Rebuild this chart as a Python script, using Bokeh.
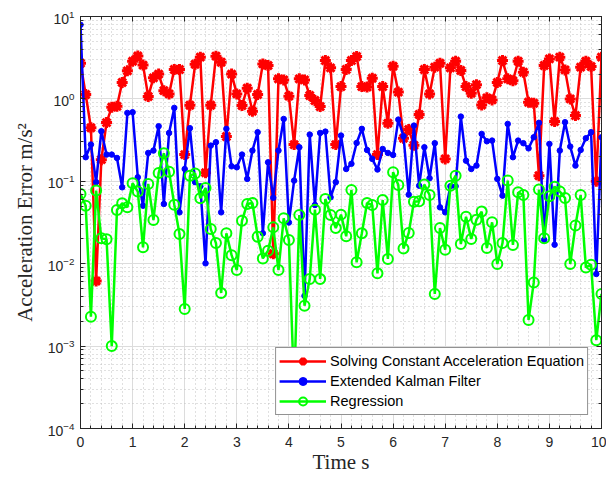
from bokeh.plotting import figure
from bokeh.models import LogAxis, LinearAxis, Legend, LegendItem, CustomJSTickFormatter
from bokeh.embed import file_html
from bokeh.resources import INLINE

time_s = [round(0.1 * i, 1) for i in range(101)]

solving_cae = [
    2.71, 1.13, 0.447, 0.00617, 0.183, 0.516, 0.794, 0.813, 1.58, 2.19,
    2.86, 3.31, 2.57, 1.07, 1.80, 2.00, 1.26, 1.15, 2.27, 2.27,
    0.211, 0.838, 2.63, 3.21, 0.127, 0.838, 3.30, 2.79, 0.349, 2.00,
    1.15, 0.832, 1.35, 0.708, 1.13, 2.66, 2.54, 0.0132, 1.75, 1.70,
    1.08, 0.279, 1.75, 1.70, 1.10, 0.955, 0.807, 2.92, 2.38, 0.279,
    1.41, 2.27, 2.92, 3.27, 1.41, 1.39, 1.78, 0.211, 1.41, 0.506,
    2.49, 1.21, 0.333, 0.425, 0.274, 0.646, 2.27, 1.15, 2.43, 2.71,
    0.187, 2.38, 2.86, 2.21, 1.41, 1.17, 1.49, 0.845, 1.03, 0.973,
    1.58, 2.92, 1.75, 1.66, 2.86, 2.11, 0.912, 0.885, 0.117, 2.54,
    3.06, 0.531, 3.21, 2.25, 1.00, 0.628, 2.43, 2.86, 2.47, 0.100,
    3.21,
]

ekf = [
    7.93, 0.196, 0.279, 0.0977, 0.405, 0.211, 0.211, 0.192, 0.0845, 0.676,
    0.689, 0.112, 0.0506, 0.221, 0.236, 0.466, 0.0531, 0.386, 0.778, 0.0420,
    0.141, 0.441, 0.0977, 0.0871, 0.0101, 0.271, 0.298, 0.0420, 0.433, 0.152,
    0.148, 0.211, 0.107, 0.236, 0.394, 0.0234, 0.170, 0.0631, 0.236, 0.571,
    0.0316, 0.102, 0.259, 0.00407, 0.369, 0.0516, 0.386, 0.401, 0.0640, 0.0977,
    0.359, 0.141, 0.163, 0.292, 0.433, 0.240, 0.187, 0.139, 0.247, 0.221,
    0.209, 0.561, 0.352, 0.0689, 0.474, 0.0885, 0.259, 0.109, 0.290, 0.0483,
    0.0420, 0.0871, 0.0871, 0.610, 0.178, 0.141, 0.155, 0.376, 0.306, 0.312,
    0.107, 0.0670, 0.497, 0.196, 0.312, 0.290, 0.251, 0.342, 0.512, 0.0195,
    0.284, 0.0170, 0.236, 0.521, 0.264, 0.155, 0.240, 0.333, 0.394, 0.0075,
    0.342,
]

regression = [
    0.0702, 0.0506, 0.00227, 0.0771, 0.0203, 0.0198, 0.00100, 0.0449, 0.0541, 0.0483,
    0.0946, 0.0750, 0.0158, 0.0929, 0.0339, 0.126, 0.219, 0.131, 0.0521, 0.0229,
    0.00282, 0.117, 0.124, 0.0622, 0.0830, 0.0263, 0.0178, 0.00441, 0.0234, 0.0127,
    0.00837, 0.0333, 0.0531, 0.0546, 0.0213, 0.0116, 0.0144, 0.0276, 0.00837, 0.0355,
    0.0194, 0.0003, 0.0390, 0.00309, 0.00652, 0.0453, 0.00652, 0.0610, 0.0390, 0.0271,
    0.0394, 0.0215, 0.0785, 0.0104, 0.0234, 0.0546, 0.0516, 0.00764, 0.0593, 0.0114,
    0.129, 0.0902, 0.0153, 0.0236, 0.0566, 0.0571, 0.0912, 0.0682, 0.00429, 0.0271,
    0.0148, 0.0885, 0.117, 0.0173, 0.0372, 0.0200, 0.0342, 0.0429, 0.0155, 0.0318,
    0.00991, 0.0178, 0.102, 0.0169, 0.0735, 0.0682, 0.00207, 0.00593, 0.0793, 0.0203,
    0.0658, 0.0861, 0.0750, 0.0628, 0.00991, 0.0290, 0.0682, 0.00902, 0.00973, 0.00118,
    0.00429,
]

labels = ["Solving Constant Acceleration Equation", "Extended Kalman Filter", "Regression"]

AX = "#262626"
p = figure(width=606, height=478, x_range=(0, 10), y_range=(1e-4, 10),
           y_axis_type="log", output_backend="svg", toolbar_location=None,
           min_border_left=80, min_border_top=16, min_border_right=5, min_border_bottom=50)
p.background_fill_color = "white"
p.outline_line_color = AX
p.outline_line_width = 1

for ax in (p.xaxis[0], p.yaxis[0]):
    ax.axis_line_color = AX
    ax.major_tick_line_color = AX
    ax.minor_tick_line_color = AX
    ax.major_tick_in = 5
    ax.major_tick_out = 0
    ax.minor_tick_in = 3
    ax.minor_tick_out = 0
    ax.major_label_text_font = "Liberation Sans"
    ax.major_label_text_font_size = "14px"
    ax.major_label_text_color = AX
    ax.axis_label_text_font = "Liberation Serif"
    ax.axis_label_text_font_style = "normal"
    ax.axis_label_text_font_size = "21px"
    ax.axis_label_text_color = AX

p.xaxis.axis_label = "Time s"
p.xaxis.major_label_standoff = 8
p.xaxis.axis_label_standoff = 0
p.yaxis.axis_label = "Acceleration Error m/s²"
p.yaxis.major_label_standoff = 6
p.yaxis.axis_label_standoff = 8
p.xaxis.ticker.desired_num_ticks = 10

top = LinearAxis(formatter=CustomJSTickFormatter(code="return ''"), major_label_standoff=0,
                 major_tick_in=5, major_tick_out=0, minor_tick_in=3, minor_tick_out=0,
                 axis_line_color=AX, major_tick_line_color=AX, minor_tick_line_color=AX)
top.ticker.desired_num_ticks = 10
right = LogAxis(formatter=CustomJSTickFormatter(code="return ''"), major_label_standoff=0,
                major_tick_in=5, major_tick_out=0, minor_tick_in=3, minor_tick_out=0,
                axis_line_color=AX, major_tick_line_color=AX, minor_tick_line_color=AX)
p.add_layout(top, "above")
p.add_layout(right, "right")

for g in (p.xgrid[0], p.ygrid[0]):
    g.grid_line_color = "#dcdcdc"
    g.grid_line_width = 1
    g.minor_grid_line_color = "#c0c0c0"
    g.minor_grid_line_dash = "1 3"
    g.minor_grid_line_width = 1

lw = 2.5
r1 = p.line(time_s, solving_cae, line_color="#ff0000", line_width=lw)
m1 = p.scatter(time_s, solving_cae, marker="asterisk", size=11, line_color="#ff0000", line_width=3)
r2 = p.line(time_s, ekf, line_color="#0000ff", line_width=lw)
m2 = p.scatter(time_s, ekf, marker="circle", size=5.5, line_color="#0000ff", fill_color="#0000ff")
r3 = p.line(time_s, regression, line_color="#00ff00", line_width=lw)
m3 = p.scatter(time_s, regression, marker="circle", size=10, line_color="#00ff00", fill_color=None, line_width=2)

legend = Legend(items=[LegendItem(label=labels[0], renderers=[r1, m1]),
                       LegendItem(label=labels[1], renderers=[r2, m2]),
                       LegendItem(label=labels[2], renderers=[r3, m3])],
                location="bottom_right", margin=13, padding=3, spacing=0,
                glyph_width=47, glyph_height=20, label_height=20, label_standoff=4,
                label_text_font="Liberation Sans", label_text_font_size="14.5px",
                label_text_color="#000000", border_line_color=AX, border_line_width=1,
                background_fill_color="white", background_fill_alpha=1)
p.add_layout(legend, "center")

open("out.html", "w").write(file_html(p, INLINE))
